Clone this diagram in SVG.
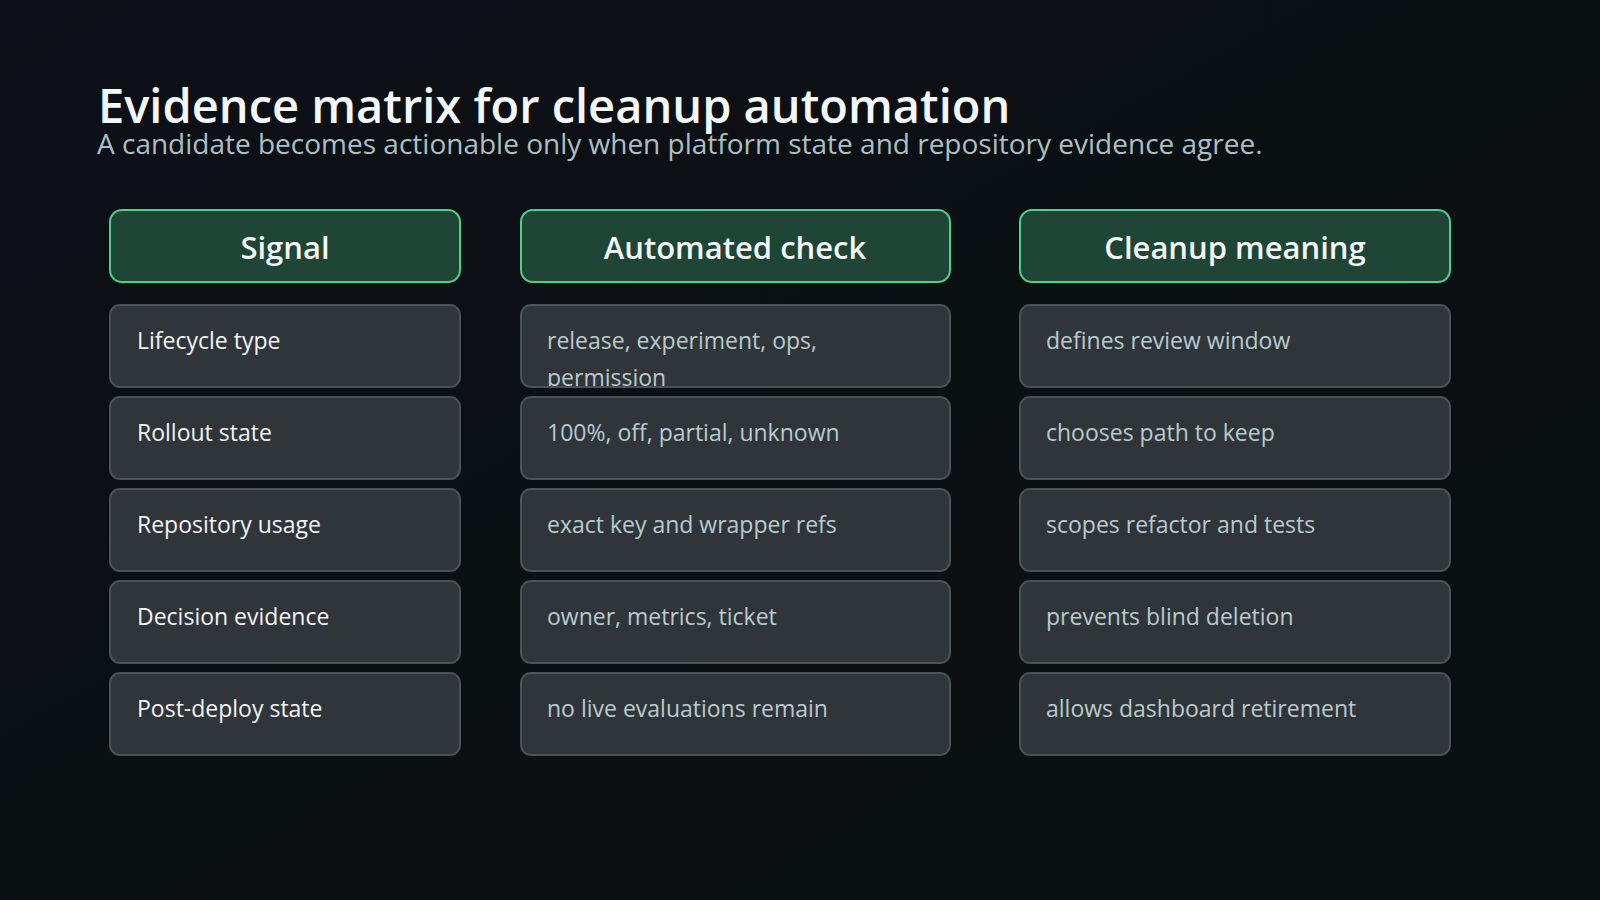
<svg xmlns="http://www.w3.org/2000/svg" width="1600" height="900" viewBox="0 0 1600 900">
<defs>
<linearGradient id="bg" x1="0" y1="0" x2="1" y2="1"><stop offset="0" stop-color="#0d1117"/><stop offset="1" stop-color="#0a0f10"/></linearGradient>
<clipPath id="c1"><rect x="520" y="306" width="430" height="80" rx="9"/></clipPath>
<style>
.h rect{fill:#1e4535;stroke:#4fd08a;stroke-width:2}
.h text{fill:#f2f6f4;font:600 31px "Open Sans","Noto Sans",sans-serif;text-anchor:middle}
.c rect{fill:#30353a;stroke:#4a5256;stroke-width:2}
.c text{font:23px "Open Sans","Noto Sans",sans-serif;fill:#b9cace}
.s text{fill:#f0f4f4}
</style>
</defs>
<rect width="1600" height="900" fill="url(#bg)"/>
<text x="98" y="123" font-family="Open Sans, Noto Sans, sans-serif" font-size="47" font-weight="600" fill="#f4f7f8">Evidence matrix for cleanup automation</text>
<text x="97" y="154" font-family="Open Sans, Noto Sans, sans-serif" font-size="28" fill="#aebfc3">A candidate becomes actionable only when platform state and repository evidence agree.</text>
<g id="h1" class="h"><rect x="110" y="210" width="350" height="72" rx="12"/><text x="285" y="259">Signal</text></g>
<g id="h2" class="h"><rect x="521" y="210" width="429" height="72" rx="12"/><text x="735" y="259">Automated check</text></g>
<g id="h3" class="h"><rect x="1020" y="210" width="430" height="72" rx="12"/><text x="1235" y="259">Cleanup meaning</text></g>
<g id="s1" class="c s"><rect x="110" y="305" width="350" height="82" rx="10"/><text x="137" y="349">Lifecycle type</text></g>
<g id="s2" class="c s"><rect x="110" y="397" width="350" height="82" rx="10"/><text x="137" y="441">Rollout state</text></g>
<g id="s3" class="c s"><rect x="110" y="489" width="350" height="82" rx="10"/><text x="137" y="533">Repository usage</text></g>
<g id="s4" class="c s"><rect x="110" y="581" width="350" height="82" rx="10"/><text x="137" y="625">Decision evidence</text></g>
<g id="s5" class="c s"><rect x="110" y="673" width="350" height="82" rx="10"/><text x="137" y="717">Post-deploy state</text></g>
<g id="a1" class="c"><rect x="521" y="305" width="429" height="82" rx="10"/><g clip-path="url(#c1)"><text x="547" y="349">release, experiment, ops,</text><text x="547" y="386">permission</text></g></g>
<g id="a2" class="c"><rect x="521" y="397" width="429" height="82" rx="10"/><text x="547" y="441">100%, off, partial, unknown</text></g>
<g id="a3" class="c"><rect x="521" y="489" width="429" height="82" rx="10"/><text x="547" y="533">exact key and wrapper refs</text></g>
<g id="a4" class="c"><rect x="521" y="581" width="429" height="82" rx="10"/><text x="547" y="625">owner, metrics, ticket</text></g>
<g id="a5" class="c"><rect x="521" y="673" width="429" height="82" rx="10"/><text x="547" y="717">no live evaluations remain</text></g>
<g id="m1" class="c"><rect x="1020" y="305" width="430" height="82" rx="10"/><text x="1046" y="349">defines review window</text></g>
<g id="m2" class="c"><rect x="1020" y="397" width="430" height="82" rx="10"/><text x="1046" y="441">chooses path to keep</text></g>
<g id="m3" class="c"><rect x="1020" y="489" width="430" height="82" rx="10"/><text x="1046" y="533">scopes refactor and tests</text></g>
<g id="m4" class="c"><rect x="1020" y="581" width="430" height="82" rx="10"/><text x="1046" y="625">prevents blind deletion</text></g>
<g id="m5" class="c"><rect x="1020" y="673" width="430" height="82" rx="10"/><text x="1046" y="717">allows dashboard retirement</text></g>
<g id="connectors"/>
</svg>
